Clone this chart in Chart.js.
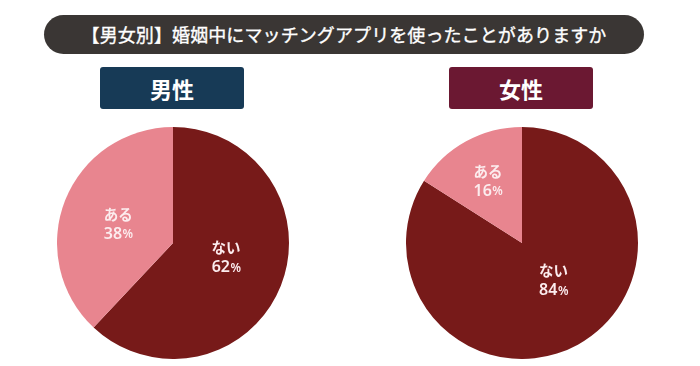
<!DOCTYPE html>
<html><head><meta charset="utf-8">
<script src="https://cdn.jsdelivr.net/npm/chart.js@4"></script>
<style>
html,body{margin:0;padding:0;background:#fff;width:700px;height:366px;overflow:hidden;font-family:"Noto Sans CJK JP","Noto Sans",sans-serif;}
#title{position:absolute;left:44px;top:15px;width:600px;height:39px;border-radius:20px;background:#3a3634;color:#fff;font-size:18px;font-weight:400;line-height:39px;text-align:center;letter-spacing:0.1px;-webkit-text-stroke:0.35px #fff;}
.tag{position:absolute;top:67px;width:144px;height:42px;border-radius:3px;color:#fff;font-size:22px;font-weight:700;line-height:42px;text-align:center;}
#m{left:100px;background:#173a56;}
#f{left:449px;background:#6b1832;}
.pc{position:absolute;top:127px;width:232px;height:232px;}
#c1{left:56.5px;} #c2{left:405.5px;}
</style></head>
<body>
<div id="title">【男女別】婚姻中にマッチングアプリを使ったことがありますか</div>
<div class="tag" id="m">男性</div>
<div class="tag" id="f">女性</div>
<div class="pc" id="c1"><canvas id="p1" width="232" height="232"></canvas></div>
<div class="pc" id="c2"><canvas id="p2" width="232" height="232"></canvas></div>
<script>
const titleText = "【男女別】婚姻中にマッチングアプリを使ったことがありますか";
const groups = ["男性", "女性"];
const categories = ["ない", "ある"];
const maleValues = [62, 38];
const femaleValues = [84, 16];
const sliceColors = ["#771a19", "#e8858f"];
// label placement: fraction of radius, and angular nudge (degrees) from slice middle
const labelRadius1 = [0.475, 0.5];
const labelNudge1 = [-6, -2.5];
const labelRadius2 = [0.42, 0.61];
const labelNudge2 = [-11.5, 0];

const labelPlugin = {
  id: 'sliceLabels',
  afterDatasetsDraw(chart, args, opts) {
    const ctx = chart.ctx;
    const meta = chart.getDatasetMeta(0);
    const vals = chart.data.datasets[0].data;
    meta.data.forEach((arc, i) => {
      const p = arc.getProps(['x','y','startAngle','endAngle','outerRadius'], true);
      const mid = (p.startAngle + p.endAngle) / 2 + opts.nudge[i] * Math.PI / 180;
      const rr = p.outerRadius * opts.radii[i];
      const x = p.x + Math.cos(mid) * rr;
      const y = p.y + Math.sin(mid) * rr;
      ctx.save();
      ctx.fillStyle = '#fcecee';
      ctx.textBaseline = 'middle';
      ctx.textAlign = 'center';
      ctx.font = '700 14.5px "Noto Sans CJK JP", sans-serif';
      ctx.fillText(chart.data.labels[i], x, y - 10);
      const num = String(vals[i]);
      const f1 = '600 16px "Noto Sans", sans-serif';
      const f2 = '600 12px "Noto Sans", sans-serif';
      ctx.font = f1;
      const w1 = ctx.measureText(num).width;
      ctx.font = f2;
      const w2 = ctx.measureText('%').width;
      const sx = x - (w1 + w2) / 2;
      ctx.textAlign = 'left';
      ctx.font = f1;
      ctx.fillText(num, sx, y + 10);
      ctx.font = f2;
      ctx.fillText('%', sx + w1 + 0.5, y + 11);
      ctx.restore();
    });
  }
};

function makePie(id, values, radii, nudge) {
  return new Chart(document.getElementById(id), {
    type: 'pie',
    data: { labels: categories, datasets: [{ data: values, backgroundColor: sliceColors, borderWidth: 0 }] },
    options: {
      responsive: false, animation: false,
      layout: { padding: 0 },
      plugins: { legend: { display: false }, tooltip: { enabled: false }, sliceLabels: { radii: radii, nudge: nudge } }
    },
    plugins: [labelPlugin]
  });
}
makePie('p1', maleValues, labelRadius1, labelNudge1);
makePie('p2', femaleValues, labelRadius2, labelNudge2);
</script>
</body></html>
